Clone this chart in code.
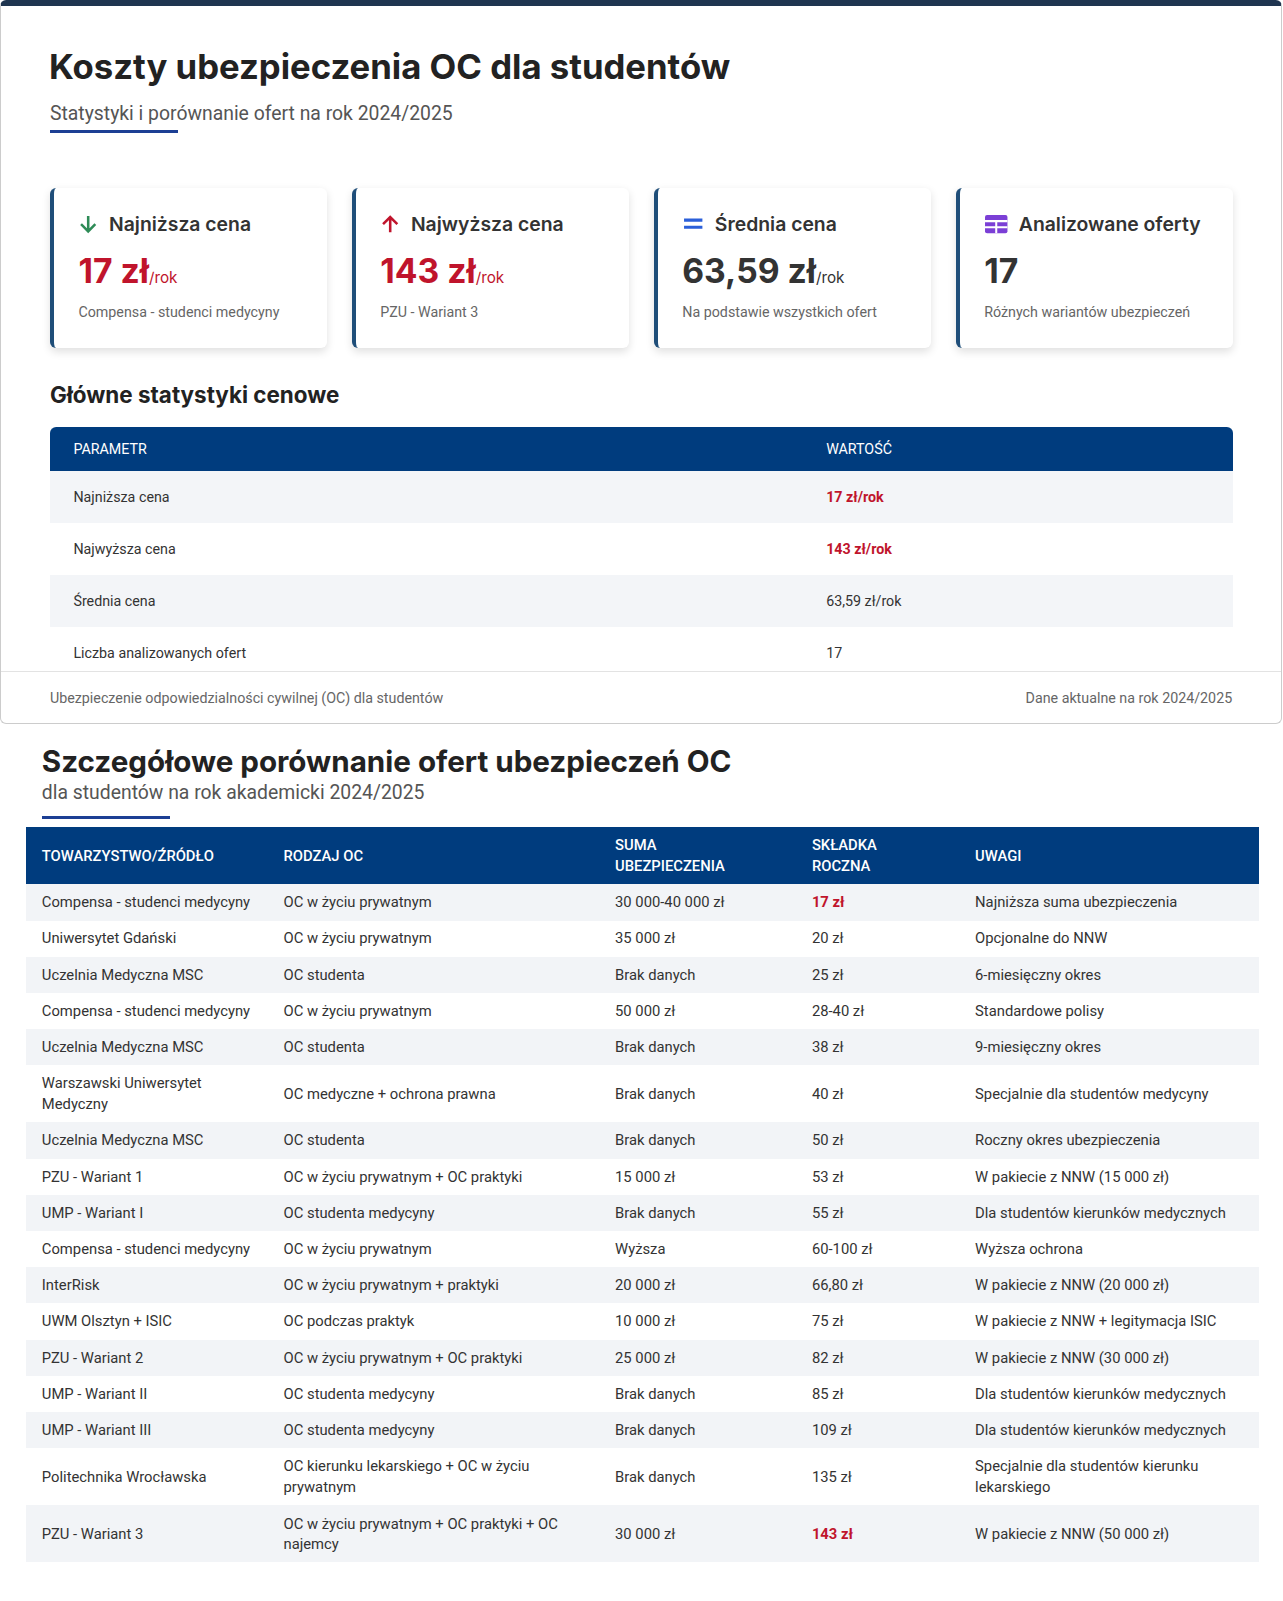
<!DOCTYPE html>
<html lang="pl">
<head>
<meta charset="utf-8">
<script src="https://cdn.jsdelivr.net/npm/chart.js@4"></script>
<style>
  body { margin: 0; background: #fff; font-family: Roboto, "Noto Sans", sans-serif; color: #333; width: 1257px; zoom: 1.02; }
  .card1 { border: 1px solid #ccc; border-top: 6px solid #1f3550; border-radius: 6px; height: 710px; position: relative; box-sizing: border-box; }
  h1 { font-family: Inter, sans-serif; font-size: 34px; font-weight: 700; margin: 0; position: absolute; left: 47px; top: 38px; color: #222; }
  .sub { position: absolute; left: 48px; top: 94px; font-size: 19px; color: #555; }
  .bar { position: absolute; background: #1c3f94; height: 3px; width: 126px; }
  .stats { position: absolute; left: 48px; top: 178px; display: flex; gap: 24px; }
  .stat { width: 272px; height: 157px; box-sizing: border-box; border-left: 4px solid #1f4e79; border-radius: 6px; box-shadow: 0 3px 8px rgba(0,0,0,0.12); padding: 24px 0 0 24px; background: #fff; }
  .stat .t { font-family: Inter, sans-serif; font-size: 19px; font-weight: 600; color: #333; display: flex; align-items: center; gap: 10px; }
  .stat .v { font-family: Inter, sans-serif; font-size: 33px; font-weight: 700; margin-top: 14px; }
  .stat .v small { font-size: 15px; font-weight: 400; }
  .stat .d { font-size: 14px; color: #666; margin-top: 12px; }
  h2 { position: absolute; left: 48px; top: 368px; margin: 0; font-family: Inter, sans-serif; font-size: 22px; font-weight: 700; color: #222; }
  table { border-collapse: collapse; }
  #t1 { position: absolute; left: 48px; top: 413px; width: 1160px; font-size: 14px; }
  #t1 th { background: #003c7e; color: #fff; font-weight: 400; text-align: left; height: 43px; padding: 0 23px; }
  #t1 th:first-child { border-radius: 6px 0 0 0; } #t1 th:last-child { border-radius: 0 6px 0 0; }
  #t1 td { height: 51px; padding: 0 23px; }
  #t1 tr:nth-child(even) td { background: #f3f5f8; }
  .red { color: #c0142c !important; font-weight: 700; }
  .foot { position: absolute; left: 0; right: 0; top: 652px; border-top: 1px solid #e3e3e3; font-size: 14px; color: #666; padding: 18px 48px; display: flex; justify-content: space-between; }
  .sec2 { position: relative; height: 850px; }
  .sec2 h1 { left: 41px; top: 18px; font-size: 29px; }
  .sec2 .sub { left: 41px; top: 56px; font-size: 19px; }
  #t2 { position: absolute; left: 25px; top: 101px; width: 1209px; font-size: 14.5px; }
  #t2 th { background: #003c7e; color: #fff; font-weight: 500; text-align: left; height: 56px; padding: 0 16px; line-height: 20px; }
  #t2 td { height: 35.5px; padding: 0 16px; line-height: 20px; color: #333; }
  #t2 td.tall { height: 56px; }
  #t2 tr:nth-child(even) td { background: #f2f4f7; }
</style>
</head>
<body>
<div class="card1">
  <h1>Koszty ubezpieczenia OC dla studentów</h1>
  <div class="sub">Statystyki i porównanie ofert na rok 2024/2025</div>
  <div class="bar" style="left:48px;top:122px"></div>
  <div class="stats" id="stats"></div>
  <h2>Główne statystyki cenowe</h2>
  <table id="t1"></table>
  <div class="foot"><span>Ubezpieczenie odpowiedzialności cywilnej (OC) dla studentów</span><span>Dane aktualne na rok 2024/2025</span></div>
</div>
<div class="sec2">
  <h1>Szczegółowe porównanie ofert ubezpieczeń OC</h1>
  <div class="sub">dla studentów na rok akademicki 2024/2025</div>
  <div class="bar" style="left:41px;top:90px"></div>
  <table id="t2"></table>
</div>
<script>
const statTitles = ['Najniższa cena', 'Najwyższa cena', 'Średnia cena', 'Analizowane oferty'];
const statValues = ['17 zł', '143 zł', '63,59 zł', '17'];
const statUnits = ['/rok', '/rok', '/rok', ''];
const statNotes = ['Compensa - studenci medycyny', 'PZU - Wariant 3', 'Na podstawie wszystkich ofert', 'Różnych wariantów ubezpieczeń'];
const statIcons = [
  '<svg width="20" height="20" viewBox="0 0 20 20"><path d="M10 2v15M3 10l7 7 7-7" stroke="#2e8b57" stroke-width="2.5" fill="none"/></svg>',
  '<svg width="20" height="20" viewBox="0 0 20 20"><path d="M10 18V3M3 10l7-7 7 7" stroke="#c0142c" stroke-width="2.5" fill="none"/></svg>',
  '<svg width="22" height="20" viewBox="0 0 22 20"><path d="M2 6h18M2 13h18" stroke="#2b5fd9" stroke-width="3"/></svg>',
  '<svg width="24" height="20" viewBox="0 0 24 20"><rect x="1" y="1" width="22" height="18" rx="2" fill="#7b3fd6"/><path d="M1 7h22M1 13h22M12 7v12" stroke="#fff" stroke-width="2"/></svg>'
];
const statColors = ['#c0142c', '#c0142c', '#333', '#333'];

const paramNames = ['Najniższa cena', 'Najwyższa cena', 'Średnia cena', 'Liczba analizowanych ofert'];
const paramValues = ['17 zł/rok', '143 zł/rok', '63,59 zł/rok', '17'];
const paramHighlight = [true, true, false, false];

const headers = ['TOWARZYSTWO/ŹRÓDŁO', 'RODZAJ OC', 'SUMA<br>UBEZPIECZENIA', 'SKŁADKA<br>ROCZNA', 'UWAGI'];
const companies = ['Compensa - studenci medycyny', 'Uniwersytet Gdański', 'Uczelnia Medyczna MSC', 'Compensa - studenci medycyny', 'Uczelnia Medyczna MSC', 'Warszawski Uniwersytet Medyczny', 'Uczelnia Medyczna MSC', 'PZU - Wariant 1', 'UMP - Wariant I', 'Compensa - studenci medycyny', 'InterRisk', 'UWM Olsztyn + ISIC', 'PZU - Wariant 2', 'UMP - Wariant II', 'UMP - Wariant III', 'Politechnika Wrocławska', 'PZU - Wariant 3'];
const types = ['OC w życiu prywatnym', 'OC w życiu prywatnym', 'OC studenta', 'OC w życiu prywatnym', 'OC studenta', 'OC medyczne + ochrona prawna', 'OC studenta', 'OC w życiu prywatnym + OC praktyki', 'OC studenta medycyny', 'OC w życiu prywatnym', 'OC w życiu prywatnym + praktyki', 'OC podczas praktyk', 'OC w życiu prywatnym + OC praktyki', 'OC studenta medycyny', 'OC studenta medycyny', 'OC kierunku lekarskiego + OC w życiu prywatnym', 'OC w życiu prywatnym + OC praktyki + OC najemcy'];
const sums = ['30 000-40 000 zł', '35 000 zł', 'Brak danych', '50 000 zł', 'Brak danych', 'Brak danych', 'Brak danych', '15 000 zł', 'Brak danych', 'Wyższa', '20 000 zł', '10 000 zł', '25 000 zł', 'Brak danych', 'Brak danych', 'Brak danych', '30 000 zł'];
const premiums = ['17 zł', '20 zł', '25 zł', '28-40 zł', '38 zł', '40 zł', '50 zł', '53 zł', '55 zł', '60-100 zł', '66,80 zł', '75 zł', '82 zł', '85 zł', '109 zł', '135 zł', '143 zł'];
const notes = ['Najniższa suma ubezpieczenia', 'Opcjonalne do NNW', '6-miesięczny okres', 'Standardowe polisy', '9-miesięczny okres', 'Specjalnie dla studentów medycyny', 'Roczny okres ubezpieczenia', 'W pakiecie z NNW (15 000 zł)', 'Dla studentów kierunków medycznych', 'Wyższa ochrona', 'W pakiecie z NNW (20 000 zł)', 'W pakiecie z NNW + legitymacja ISIC', 'W pakiecie z NNW (30 000 zł)', 'Dla studentów kierunków medycznych', 'Dla studentów kierunków medycznych', 'Specjalnie dla studentów kierunku lekarskiego', 'W pakiecie z NNW (50 000 zł)'];
const tallRows = [5, 15, 16];
const colWidths = [237, 325, 193, 160, 294];

document.getElementById('stats').innerHTML = statTitles.map((t, i) =>
  `<div class="stat"><div class="t">${statIcons[i]}${t}</div>
   <div class="v" style="color:${statColors[i]}">${statValues[i]}<small>${statUnits[i]}</small></div>
   <div class="d">${statNotes[i]}</div></div>`).join('');

document.getElementById('t1').innerHTML =
  '<tr><th style="width:692px">PARAMETR</th><th>WARTOŚĆ</th></tr>' +
  paramNames.map((p, i) => `<tr><td>${p}</td><td class="${paramHighlight[i] ? 'red' : ''}">${paramValues[i]}</td></tr>`).join('');

document.getElementById('t2').innerHTML =
  '<tr>' + headers.map((h, i) => `<th style="width:${colWidths[i] - 32}px">${h}</th>`).join('') + '</tr>' +
  companies.map((c, i) => {
    const cls = tallRows.includes(i) ? 'tall' : '';
    const hi = (i === 0 || i === companies.length - 1) ? 'red' : '';
    return `<tr><td class="${cls}">${c}</td><td class="${cls}">${types[i]}</td><td class="${cls}">${sums[i]}</td><td class="${cls} ${hi}">${premiums[i]}</td><td class="${cls}">${notes[i]}</td></tr>`;
  }).join('');
</script>
</body>
</html>
